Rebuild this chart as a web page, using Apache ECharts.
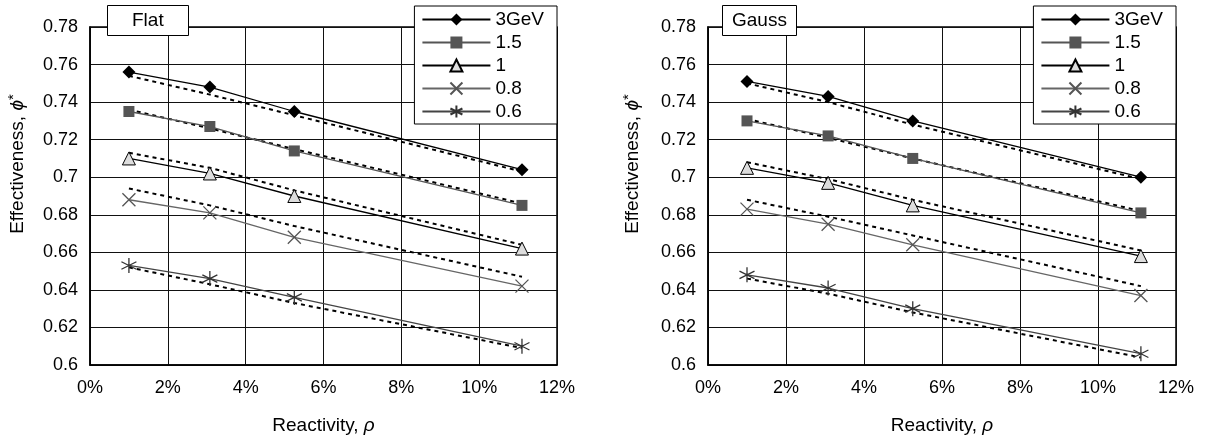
<!DOCTYPE html>
<html>
<head>
<meta charset="utf-8">
<script src="https://cdn.jsdelivr.net/npm/echarts@6/dist/echarts.min.js"></script>
<style>
  html, body { margin: 0; padding: 0; background: #fff; }
  #main { width: 1209px; height: 440px; }
</style>
</head>
<body>
<div id="main"></div>
<script>
// reactivity (%) at which the runs were made
var reactivity = [1.0, 3.08, 5.25, 11.1];
var names = ['3GeV', '1.5', '1', '0.8', '0.6'];

// Flat profile: simulated values
var flat3GeV = [0.756, 0.748, 0.735, 0.704];
var flat15 = [0.735, 0.727, 0.714, 0.685];
var flat1 = [0.710, 0.702, 0.690, 0.662];
var flat08 = [0.688, 0.681, 0.668, 0.642];
var flat06 = [0.653, 0.646, 0.636, 0.610];
// Flat profile: fitted (dotted) values
var flatFit3GeV = [0.754, 0.744, 0.733, 0.703];
var flatFit15 = [0.736, 0.726, 0.715, 0.686];
var flatFit1 = [0.713, 0.705, 0.693, 0.664];
var flatFit08 = [0.694, 0.685, 0.674, 0.647];
var flatFit06 = [0.652, 0.643, 0.633, 0.609];

// Gauss profile: simulated values
var gauss3GeV = [0.751, 0.743, 0.730, 0.700];
var gauss15 = [0.730, 0.722, 0.710, 0.681];
var gauss1 = [0.705, 0.697, 0.685, 0.658];
var gauss08 = [0.683, 0.675, 0.664, 0.637];
var gauss06 = [0.648, 0.641, 0.630, 0.606];
// Gauss profile: fitted (dotted) values
var gaussFit3GeV = [0.750, 0.740, 0.728, 0.699];
var gaussFit15 = [0.731, 0.721, 0.710, 0.682];
var gaussFit1 = [0.708, 0.699, 0.688, 0.661];
var gaussFit08 = [0.688, 0.679, 0.669, 0.642];
var gaussFit06 = [0.646, 0.638, 0.628, 0.604];

var FONT = '"Liberation Sans", Arial, sans-serif';

// marker look for each series, same order as names
var looks = [
  { symbol: 'diamond', size: 13, line: '#000', fill: '#000', border: '#000', bw: 0 },
  { symbol: 'rect', size: 11, line: '#555', fill: '#555', border: '#555', bw: 0 },
  { symbol: 'triangle', size: 13, line: '#000', fill: '#ddd', border: '#000', bw: 1 },
  { symbol: 'path://M0,0L10,10M10,0L0,10', size: 13, line: '#666', fill: 'rgba(0,0,0,0)', border: '#555', bw: 1.3 },
  { symbol: 'path://M5,0L5,10M0,2.5L10,7.5M0,7.5L10,2.5', size: 15, line: '#444', fill: 'rgba(0,0,0,0)', border: '#333', bw: 1.3 }
];

function pairs(ys) {
  return reactivity.map(function (x, i) { return [x, ys[i]]; });
}

function mainSeries(idx, ys, k) {
  var l = looks[k];
  return {
    name: names[k], type: 'line', xAxisIndex: idx, yAxisIndex: idx,
    data: pairs(ys), symbol: l.symbol, symbolSize: l.size, z: 5,
    lineStyle: { color: l.line, width: 1.3 },
    itemStyle: { color: l.fill, borderColor: l.border, borderWidth: l.bw },
    emphasis: { disabled: true }, animation: false
  };
}

function fitSeries(idx, ys) {
  return {
    name: 'fit', type: 'line', xAxisIndex: idx, yAxisIndex: idx,
    data: pairs(ys), symbol: 'none', z: 3, silent: true,
    lineStyle: { color: '#000', width: 2, type: [4, 4] },
    animation: false
  };
}

function xAxisOf(idx) {
  return {
    type: 'value', gridIndex: idx, min: 0, max: 12, interval: 2,
    name: '{n|Reactivity, }{i|\u03c1}', nameLocation: 'middle', nameGap: 51,
    nameTextStyle: { rich: { n: { fontSize: 19, fontFamily: FONT, color: '#000' }, i: { fontSize: 19, fontFamily: FONT, fontStyle: 'italic', color: '#000' } } },
    axisLine: { lineStyle: { color: '#000', width: 1.5 } },
    axisTick: { show: false },
    axisLabel: { color: '#000', fontSize: 18, fontFamily: FONT, margin: 14, formatter: '{value}%' },
    splitLine: { lineStyle: { color: '#111', width: 1 } }
  };
}

function yAxisOf(idx) {
  return {
    type: 'value', gridIndex: idx, min: 0.6, max: 0.78, interval: 0.02,
    axisLine: { show: true, lineStyle: { color: '#000', width: 1.5 } },
    axisTick: { show: false },
    axisLabel: { color: '#000', fontSize: 18, fontFamily: FONT, margin: 12,
      formatter: function (v) { return String(parseFloat(v.toFixed(2))); } },
    splitLine: { lineStyle: { color: '#111', width: 1 } }
  };
}

function legendOf(right) {
  return {
    data: names, orient: 'vertical', right: right, top: 6,
    backgroundColor: '#fff', borderColor: '#000', borderWidth: 1,
    padding: [4, 13, 3, 7], itemGap: 4, itemWidth: 68, itemHeight: 15,
    textStyle: { fontSize: 19, fontFamily: FONT, color: '#000' },
    selectedMode: false
  };
}

function yTitle(x) {
  return {
    type: 'text', x: x, y: 164, rotation: Math.PI / 2, z: 10,
    style: {
      text: '{n|Effectiveness, }{i|\u03d5}{s|*}',
      align: 'center', verticalAlign: 'middle',
      rich: {
        n: { fontSize: 19, fontFamily: FONT, fill: '#000', lineHeight: 24 },
        i: { fontSize: 19, fontFamily: FONT, fontStyle: 'italic', fill: '#000', lineHeight: 24 },
        s: { fontSize: 15, fontFamily: FONT, fill: '#000', lineHeight: 24, verticalAlign: 'top' }
      }
    }
  };
}

var titleBox = {
  backgroundColor: '#fff', borderColor: '#000', borderWidth: 1,
  textStyle: { fontSize: 19, fontWeight: 'normal', fontFamily: FONT, color: '#000' }
};

var chart = echarts.init(document.getElementById('main'));
var option = {
  backgroundColor: '#fff',
  animation: false,
  title: [
    Object.assign({ text: 'Flat', left: 107, top: 5, padding: [6, 25, 6, 25] }, titleBox),
    Object.assign({ text: 'Gauss', left: 722, top: 5, padding: [6, 10, 6, 10] }, titleBox)
  ],
  legend: [legendOf(1209 - 557), legendOf(1209 - 1176)],
  grid: [
    { left: 90, top: 27, width: 467, height: 341, show: true, borderColor: '#000', borderWidth: 1.5 },
    { left: 708, top: 27, width: 468, height: 343, show: true, borderColor: '#000', borderWidth: 1.5 }
  ],
  xAxis: [xAxisOf(0), xAxisOf(1)],
  yAxis: [yAxisOf(0), yAxisOf(1)],
  graphic: [yTitle(18), yTitle(633)],
  series: [
    fitSeries(0, flatFit3GeV), fitSeries(0, flatFit15), fitSeries(0, flatFit1),
    fitSeries(0, flatFit08), fitSeries(0, flatFit06),
    mainSeries(0, flat3GeV, 0), mainSeries(0, flat15, 1), mainSeries(0, flat1, 2),
    mainSeries(0, flat08, 3), mainSeries(0, flat06, 4),
    fitSeries(1, gaussFit3GeV), fitSeries(1, gaussFit15), fitSeries(1, gaussFit1),
    fitSeries(1, gaussFit08), fitSeries(1, gaussFit06),
    mainSeries(1, gauss3GeV, 0), mainSeries(1, gauss15, 1), mainSeries(1, gauss1, 2),
    mainSeries(1, gauss08, 3), mainSeries(1, gauss06, 4)
  ]
};
chart.setOption(option);
</script>
</body>
</html>
